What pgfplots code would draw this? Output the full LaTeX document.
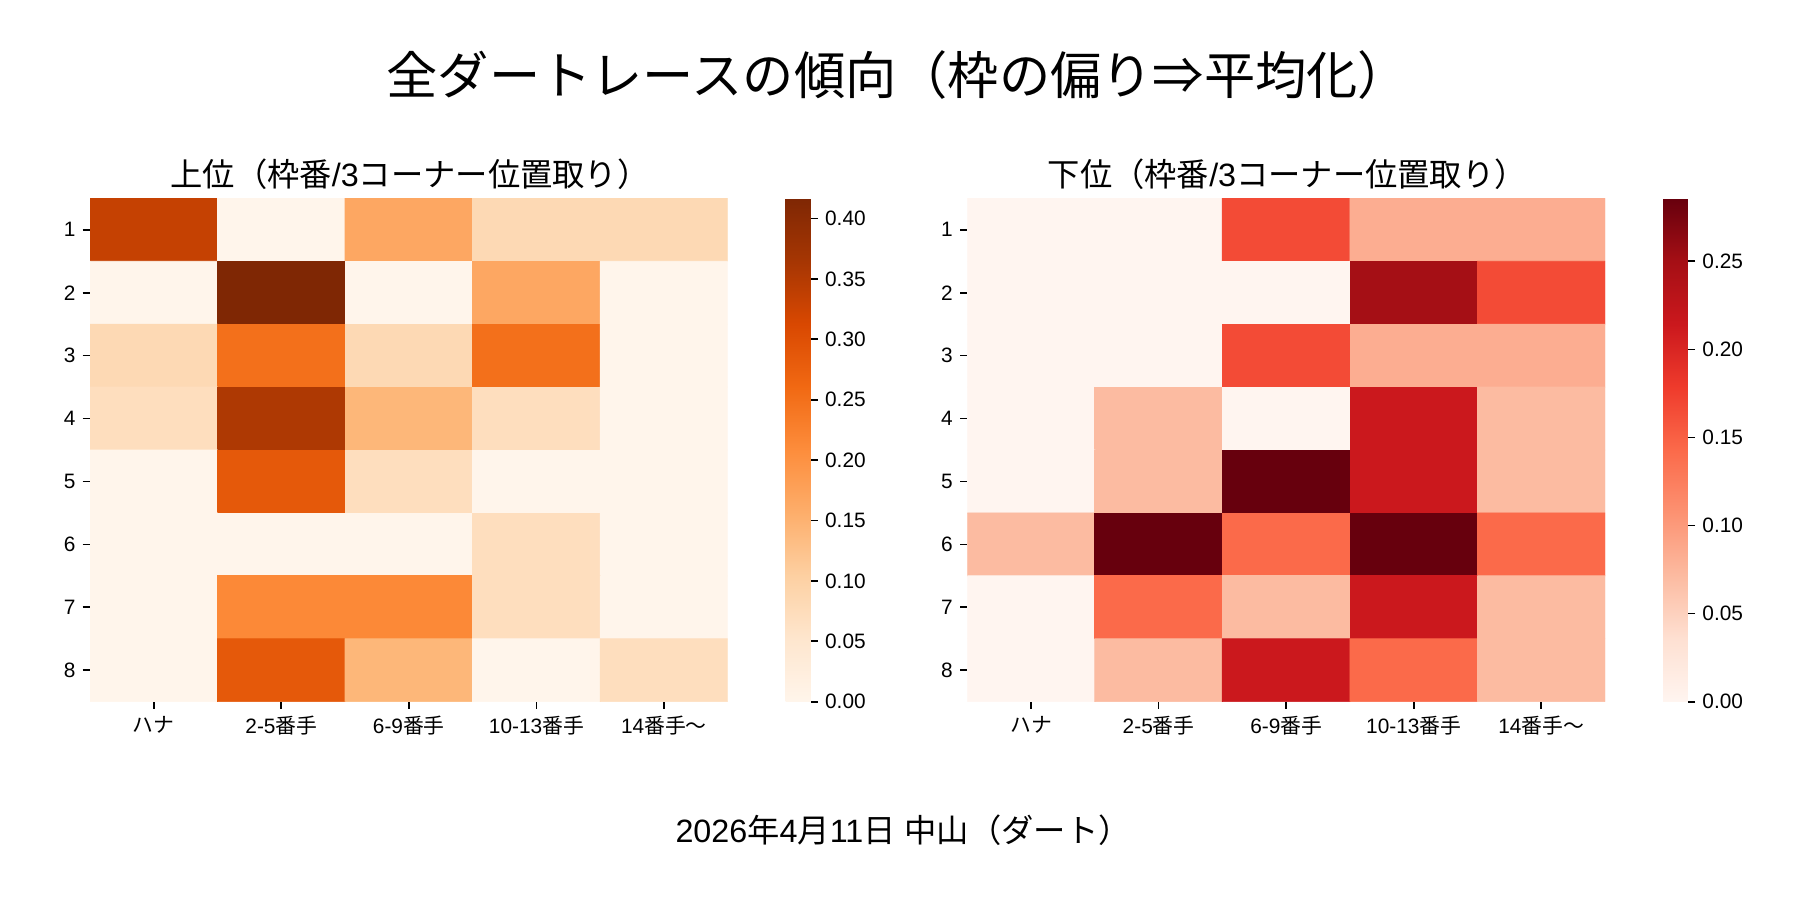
\documentclass[border=0pt]{standalone}
\usepackage{fontspec}
\setmainfont{Liberation Sans}
\newfontfamily\jp{Noto Sans CJK JP}
\usepackage{pgfplots}
\usepackage{pgfplotstable}
\pgfplotsset{compat=1.18}
\pgfplotsset{
  colormap={Oranges}{rgb255=(255,245,235) rgb255=(254,230,206) rgb255=(253,208,162) rgb255=(253,174,107) rgb255=(253,141,60) rgb255=(241,105,19) rgb255=(217,72,1) rgb255=(166,54,3) rgb255=(127,39,4)},
  colormap={Reds}{rgb255=(255,245,240) rgb255=(254,224,210) rgb255=(252,187,161) rgb255=(252,146,114) rgb255=(251,106,74) rgb255=(239,59,44) rgb255=(203,24,29) rgb255=(165,15,21) rgb255=(103,0,13)},
  hm/.style={
    scale only axis, width=306.1pt, height=241.6pt, anchor=south west,
    enlargelimits=false, xmin=-0.5, xmax=4.5, ymin=0.5, ymax=8.5, y dir=reverse,
    axis line style={draw=none},
    xtick={0,1,2,3,4}, ytick={1,2,3,4,5,6,7,8},
    xticklabels={{\jp ハナ},{2-5\jp 番手},{6-9\jp 番手},{10-13\jp 番手},{14\jp 番手〜}},
    tick align=outside, xtick pos=bottom, ytick pos=left,
    major tick length=3.5pt, tick style={black, line width=0.8pt},
    tick label style={font=\fontsize{10}{12}\selectfont},
    /pgf/number format/assume math mode=true,
    colorbar,
  },
  cb/.style={
    colorbar style={
      at={(parent axis.north east)}, anchor=north west, xshift=19.3pt,
      scale only axis, width=11.9pt, height=241.6pt,
      axis line style={draw=none},
      ytick pos=right, yticklabel pos=right, tick align=outside,
      major tick length=3.5pt, tick style={black, line width=0.8pt},
      tick label style={font=\fontsize{10}{12}\selectfont},
      yticklabel style={/pgf/number format/.cd, fixed, fixed zerofill, precision=2, assume math mode=true},
      #1
    }
  }
}
\pgfplotstableread{
x y v
0 1 0.3333
1 1 0
2 1 0.1667
3 1 0.0833
4 1 0.0833
0 2 0
1 2 0.4167
2 2 0
3 2 0.1667
4 2 0
0 3 0.0833
1 3 0.25
2 3 0.0833
3 3 0.25
4 3 0
0 4 0.0714
1 4 0.3571
2 4 0.1429
3 4 0.0714
4 4 0
0 5 0
1 5 0.2857
2 5 0.0714
3 5 0
4 5 0
0 6 0
1 6 0
2 6 0
3 6 0.0714
4 6 0
0 7 0
1 7 0.2143
2 7 0.2143
3 7 0.0714
4 7 0
0 8 0
1 8 0.2857
2 8 0.1429
3 8 0
4 8 0.0714
}\tabUpper
\pgfplotstableread{
x y v
0 1 0
1 1 0
2 1 0.1667
3 1 0.0833
4 1 0.0833
0 2 0
1 2 0
2 2 0
3 2 0.25
4 2 0.1667
0 3 0
1 3 0
2 3 0.1667
3 3 0.0833
4 3 0.0833
0 4 0
1 4 0.0714
2 4 0
3 4 0.2143
4 4 0.0714
0 5 0
1 5 0.0714
2 5 0.2857
3 5 0.2143
4 5 0.0714
0 6 0.0714
1 6 0.2857
2 6 0.1429
3 6 0.2857
4 6 0.1429
0 7 0
1 7 0.1429
2 7 0.0714
3 7 0.2143
4 7 0.0714
0 8 0
1 8 0.0714
2 8 0.2143
3 8 0.1429
4 8 0.0714
}\tabLower
\begin{document}
\begin{tikzpicture}
\useasboundingbox (0,0) rectangle (864pt,432pt);
\begin{axis}[hm, at={(43.2pt,95.2pt)}, colormap name=Oranges,
  point meta min=0, point meta max=0.4167,
  cb={ytick={0,0.05,0.10,0.15,0.20,0.25,0.30,0.35,0.40}}]
\addplot[matrix plot*, mesh/cols=5, point meta=explicit] table[x=x, y=y, meta=v] {\tabUpper};
\end{axis}
\begin{axis}[hm, at={(464.3pt,95.2pt)}, colormap name=Reds,
  point meta min=0, point meta max=0.2857,
  cb={ytick={0,0.05,0.10,0.15,0.20,0.25}}]
\addplot[matrix plot*, mesh/cols=5, point meta=explicit] table[x=x, y=y, meta=v] {\tabLower};
\end{axis}
\node[font=\fontsize{24.6}{28}\selectfont\jp] at (431pt,396pt) {全ダートレースの傾向（枠の偏り⇒平均化）};
\node[font=\fontsize{15.5}{18}\selectfont] at (196.8pt,348.5pt) {{\jp 上位（枠番}/3{\jp コーナー位置取り）}};
\node[font=\fontsize{15.5}{18}\selectfont] at (617.9pt,348.5pt) {{\jp 下位（枠番}/3{\jp コーナー位置取り）}};
\node[font=\fontsize{15.5}{18}\selectfont] at (433.5pt,33.6pt) {2026{\jp 年}4{\jp 月}11{\jp 日} {\jp 中山（ダート）}};
\end{tikzpicture}
\end{document}
